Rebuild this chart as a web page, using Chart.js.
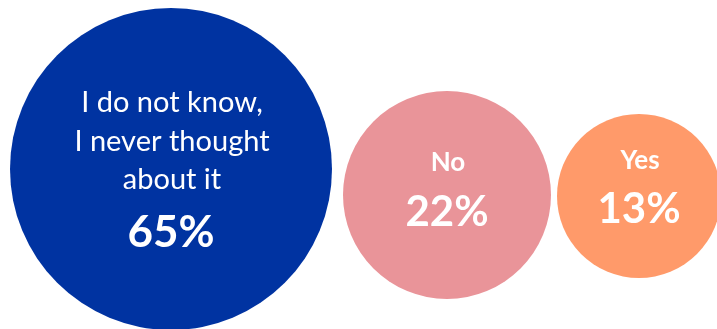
<!DOCTYPE html>
<html>
<head>
<meta charset="utf-8">
<script src="https://cdn.jsdelivr.net/npm/chart.js@4"></script>
<style>
  html, body { margin: 0; padding: 0; background: #fff; }
  #wrap { width: 717px; height: 329px; }
</style>
</head>
<body>
<div id="wrap"><canvas id="chart"></canvas></div>
<script>
// data
const categories = [['I do not know,', 'I never thought', 'about it'], ['No'], ['Yes']];
const shares = [65, 22, 13];

// look
const colors = ['#0033A1', '#E99499', '#FF9A6A'];
const radii = [161, 104, 82];
const gaps = [11, 6];       // space between neighbouring bubbles
const leftEdge = 10;
const centerY = [169, 195, 196];

// pack bubbles from left to right
const centersX = [];
radii.forEach((r, i) => {
  centersX.push(i === 0 ? leftEdge + r : centersX[i - 1] + radii[i - 1] + gaps[i - 1] + r);
});

const points = shares.map((v, i) => ({ x: centersX[i], y: centerY[i], r: radii[i] }));

// text offsets from the bubble centre (baselines)
const labelLayout = [
  { lines: [-57, -18, 20], pct: 78, labelFont: '400 29px Lato', pctFont: '700 44px Lato' },
  { lines: [-24], pct: 31, labelFont: '700 26px Lato', pctFont: '700 42px Lato' },
  { lines: [-27], pct: 27, labelFont: '700 26px Lato', pctFont: '700 42px Lato' }
];

const bubbleLabels = {
  id: 'bubbleLabels',
  afterDatasetsDraw(chart) {
    const ctx = chart.ctx;
    const meta = chart.getDatasetMeta(0);
    ctx.save();
    ctx.fillStyle = '#fff';
    ctx.textAlign = 'center';
    ctx.textBaseline = 'alphabetic';
    meta.data.forEach((el, i) => {
      const lay = labelLayout[i];
      ctx.font = lay.labelFont;
      categories[i].forEach((line, j) => {
        ctx.fillText(line, el.x + 1, el.y + lay.lines[j]);
      });
      ctx.font = lay.pctFont;
      ctx.fillText(shares[i] + '%', el.x, el.y + lay.pct);
    });
    ctx.restore();
  }
};

new Chart(document.getElementById('chart'), {
  type: 'bubble',
  data: {
    datasets: [{
      data: points,
      backgroundColor: colors,
      borderWidth: 0,
      hoverBorderWidth: 0,
      clip: false
    }]
  },
  options: {
    responsive: true,
    maintainAspectRatio: false,
    animation: false,
    layout: { padding: 0, autoPadding: false },
    scales: {
      x: { type: 'linear', min: 0, max: 717, display: false },
      y: { type: 'linear', min: 0, max: 329, reverse: true, display: false }
    },
    plugins: {
      legend: { display: false },
      tooltip: { enabled: false }
    }
  },
  plugins: [bubbleLabels]
});
</script>
</body>
</html>
